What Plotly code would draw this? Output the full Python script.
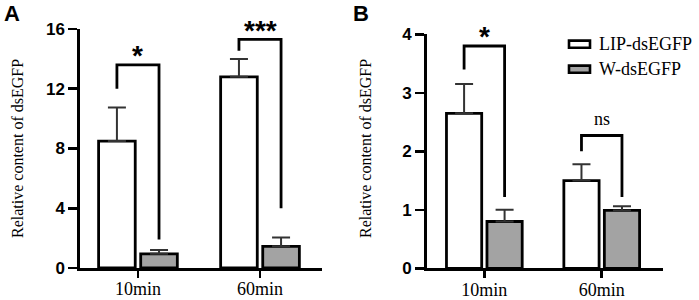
import plotly.graph_objects as go

W_PX, H_PX = 699, 300

categories = ["10min", "60min"]
series_names = ["LIP-dsEGFP", "W-dsEGFP"]

# Panel A
a_lip = [8.5, 12.8]
a_lip_err = [2.25, 1.2]
a_w = [0.95, 1.45]
a_w_err = [0.25, 0.6]
a_ticks = [0, 4, 8, 12, 16]
a_sig = ["*", "***"]
a_bracket_left_low = [12.0, 14.55]
a_bracket_top = [13.6, 15.3]
a_bracket_right_low = [1.9, 4.0]
a_sig_y = [14.65, 16.3]

# Panel B
b_lip = [2.65, 1.5]
b_lip_err = [0.5, 0.28]
b_w = [0.8, 0.99]
b_w_err = [0.2, 0.07]
b_ticks = [0, 1, 2, 3, 4]
b_sig = ["*", "ns"]
b_bracket_left_low = [3.4, 2.0]
b_bracket_top = [3.8, 2.27]
b_bracket_right_low = [1.22, 1.22]
b_sig_y = [4.06, 2.56]

ytitle = "Relative content of dsEGFP"
panel_labels = ["A", "B"]

def px(x):
    return x / W_PX

def py(y):
    return 1 - y / H_PX

# axis placement in pixels
A_X0, A_X1, A_YB, A_YT = 80, 322, 268, 29
B_X0, B_X1, B_YB, B_YT = 426.7, 663, 268.3, 34.3
A_RANGE = [0, 16]
B_RANGE = [0, 4]

def data_to_paper(v, rng, yb, yt):
    frac = (v - rng[0]) / (rng[1] - rng[0])
    return py(yb + (yt - yb) * frac)

fig = go.Figure()

BARGAP = 0.31
BARGROUPGAP = 0.13
slot = (1 - BARGAP) / 2
off = slot / 2

GRAY = "#a3a3a3"
SANS = "Liberation Sans, Arial, sans-serif"
SERIF = "Liberation Serif, Times New Roman, serif"

def add_panel(lip, lip_err, w, w_err, xa, ya):
    fig.add_trace(go.Bar(
        x=categories, y=lip, name=series_names[0], xaxis=xa, yaxis=ya,
        marker=dict(color="white", line=dict(color="black", width=2.8)),
        error_y=dict(type="data", array=lip_err, arrayminus=[0] * len(lip),
                     symmetric=False, color="#333333", thickness=2, width=9),
        showlegend=False, offsetgroup="lip", hoverinfo="skip"))
    fig.add_trace(go.Bar(
        x=categories, y=w, name=series_names[1], xaxis=xa, yaxis=ya,
        marker=dict(color=GRAY, line=dict(color="black", width=2.8)),
        error_y=dict(type="data", array=w_err, arrayminus=[0] * len(w),
                     symmetric=False, color="#333333", thickness=2, width=9),
        showlegend=False, offsetgroup="w", hoverinfo="skip"))

add_panel(a_lip, a_lip_err, a_w, a_w_err, "x", "y")
add_panel(b_lip, b_lip_err, b_w, b_w_err, "x2", "y2")

def add_brackets(xref, yref, left_low, top, right_low, sig, sig_y, rng, yb, yt):
    for i in range(len(categories)):
        xl = i - off
        xr = i + off
        fig.add_shape(type="path",
                      path=f"M {xl},{left_low[i]} L {xl},{top[i]} L {xr},{top[i]} L {xr},{right_low[i]}",
                      xref=xref, yref=yref, line=dict(color="black", width=2.8))
        yp = data_to_paper(sig_y[i], rng, yb, yt)
        if sig[i] == "ns":
            fig.add_annotation(x=i, y=yp, xref=xref, yref="paper", text="ns",
                               showarrow=False, font=dict(family=SERIF, size=18, color="black"),
                               yanchor="middle")
        else:
            fig.add_annotation(x=i, y=yp, xref=xref, yref="paper", text="<b>" + sig[i] + "</b>",
                               showarrow=False, font=dict(family=SANS, size=28, color="black"),
                               yanchor="middle", yshift=-6)

add_brackets("x", "y", a_bracket_left_low, a_bracket_top, a_bracket_right_low, a_sig, a_sig_y,
             A_RANGE, A_YB, A_YT)
add_brackets("x2", "y2", b_bracket_left_low, b_bracket_top, b_bracket_right_low, b_sig, b_sig_y,
             B_RANGE, B_YB, B_YT)

axis_common = dict(showline=True, linecolor="black", linewidth=2.6, ticks="outside",
                   tickcolor="black", tickwidth=2.6, showgrid=False, zeroline=False,
                   automargin=False)

fig.update_layout(
    width=W_PX, height=H_PX,
    margin=dict(l=0, r=0, t=0, b=0, pad=0, autoexpand=False),
    paper_bgcolor="white", plot_bgcolor="white",
    showlegend=False, hovermode=False,
    barmode="group", bargap=BARGAP, bargroupgap=BARGROUPGAP,
    xaxis=dict(domain=[px(A_X0), px(A_X1)], range=[-0.475, 1.508], type="category",
               ticklen=7, ticklabelstandoff=-4,
               tickfont=dict(family=SERIF, size=18, color="black"),
               anchor="y", **axis_common),
    yaxis=dict(domain=[py(A_YB), py(A_YT)], range=A_RANGE, tickvals=a_ticks,
               ticktext=[f"<b>{t}</b>" for t in a_ticks],
               ticklen=9, tickfont=dict(family=SANS, size=17, color="black"),
               anchor="x", **axis_common),
    xaxis2=dict(domain=[px(B_X0), px(B_X1)], range=[-0.491, 1.522], type="category",
                ticklen=7, ticklabelstandoff=-4,
                tickfont=dict(family=SERIF, size=18, color="black"),
                anchor="y2", **axis_common),
    yaxis2=dict(domain=[py(B_YB), py(B_YT)], range=B_RANGE, tickvals=b_ticks,
                ticktext=[f"<b>{t}</b>" for t in b_ticks],
                ticklen=9, tickfont=dict(family=SANS, size=17, color="black"),
                anchor="x2", **axis_common),
)

# axis titles
for xc in [18, 366]:
    fig.add_annotation(x=px(xc), y=py(149), xref="paper", yref="paper", text=ytitle,
                       textangle=-90, showarrow=False,
                       font=dict(family=SERIF, size=16, color="black"),
                       xanchor="center", yanchor="middle")

# panel labels
for lab, xc in zip(panel_labels, [11.5, 361]):
    fig.add_annotation(x=px(xc), y=py(13), xref="paper", yref="paper", text="<b>" + lab + "</b>",
                       showarrow=False, font=dict(family=SANS, size=22, color="black"),
                       xanchor="center", yanchor="middle")

# legend (manual)
legend_colors = ["white", GRAY]
legend_rows = [44.2, 69.2]
for name, col, yc in zip(series_names, legend_colors, legend_rows):
    fig.add_shape(type="rect", xref="paper", yref="paper",
                  x0=px(569), x1=px(590), y0=py(yc - 3.6), y1=py(yc + 3.6),
                  fillcolor=col, line=dict(color="black", width=2.6))
    fig.add_annotation(x=px(596.5), y=py(yc), xref="paper", yref="paper", text=name,
                       showarrow=False, font=dict(family=SERIF, size=18, color="black"),
                       xanchor="left", yanchor="middle")

fig.write_html("out.html", config={"displayModeBar": False, "staticPlot": True},
               post_script="document.body.style.margin='0';document.body.style.overflow='hidden';")
